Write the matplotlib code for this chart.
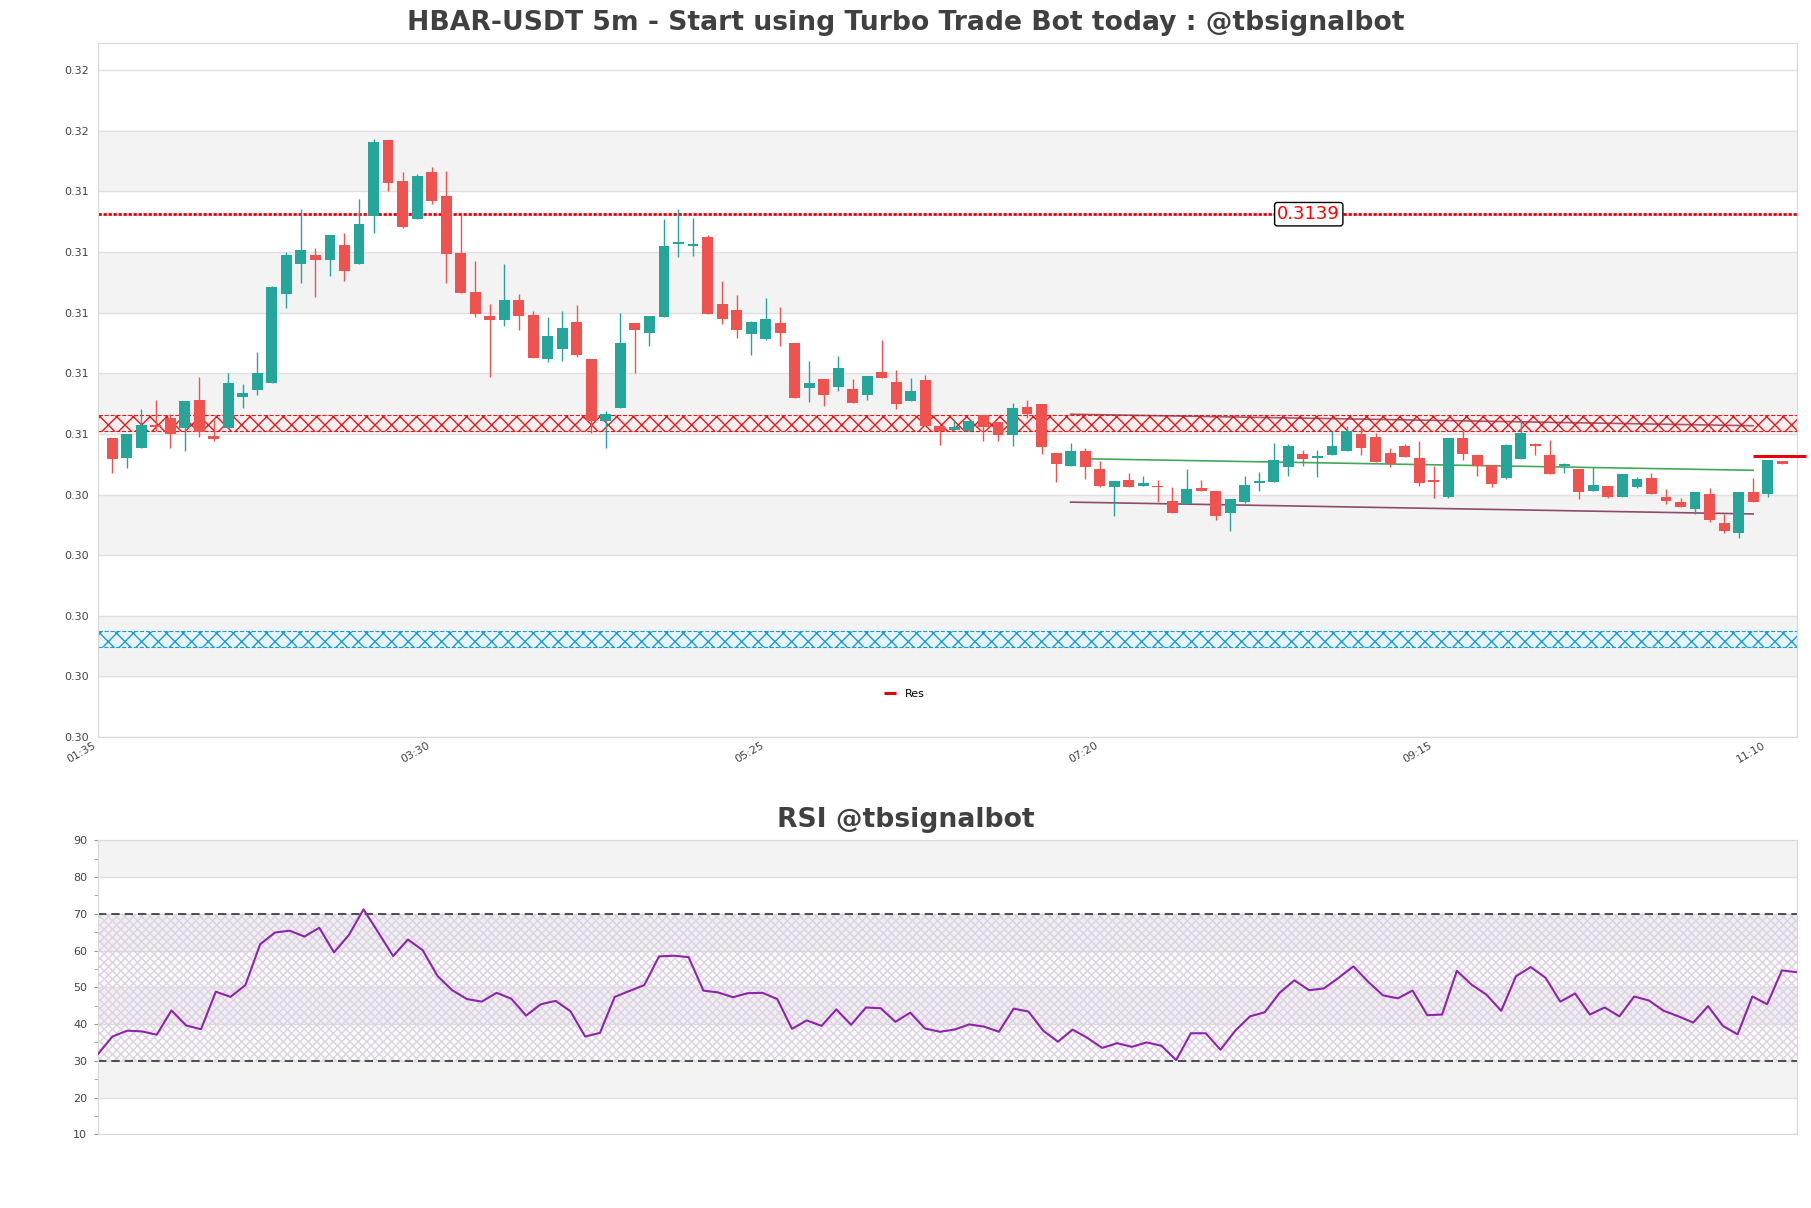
import numpy as np
import matplotlib
matplotlib.use('Agg')
import matplotlib.pyplot as plt
from matplotlib.ticker import FormatStrFormatter, MultipleLocator

# HBAR-USDT 5m candles, 01:40 -> 11:15
opens = [0.30652, 0.30587, 0.30620, 0.30695, 0.30719, 0.30684, 0.30777, 0.30658, 0.30684, 0.30788,
         0.30811, 0.30834, 0.31128, 0.31224, 0.31256, 0.31240, 0.31289, 0.31224, 0.31385, 0.31635,
         0.31500, 0.31375, 0.31529, 0.31450, 0.31262, 0.31133, 0.31054, 0.31042, 0.31107, 0.31058,
         0.30913, 0.30946, 0.31034, 0.30912, 0.30709, 0.30750, 0.31031, 0.30997, 0.31052, 0.31290,
         0.31286, 0.31315, 0.31094, 0.31074, 0.30996, 0.30979, 0.31031, 0.30965, 0.30818, 0.30846,
         0.30821, 0.30813, 0.30795, 0.30869, 0.30836, 0.30775, 0.30843, 0.30692, 0.30678, 0.30674,
         0.30726, 0.30704, 0.30663, 0.30754, 0.30764, 0.30601, 0.30560, 0.30609, 0.30549, 0.30491,
         0.30513, 0.30492, 0.30494, 0.30444, 0.30433, 0.30487, 0.30477, 0.30405, 0.30442, 0.30502,
         0.30508, 0.30557, 0.30599, 0.30587, 0.30597, 0.30610, 0.30665, 0.30655, 0.30602, 0.30625,
         0.30586, 0.30513, 0.30458, 0.30652, 0.30594, 0.30562, 0.30521, 0.30583, 0.30631, 0.30594,
         0.30560, 0.30548, 0.30478, 0.30493, 0.30458, 0.30491, 0.30520, 0.30457, 0.30440, 0.30418,
         0.30467, 0.30371, 0.30337, 0.30472, 0.30466, 0.30577]
highs = [0.30652, 0.30665, 0.30747, 0.30777, 0.30730, 0.30774, 0.30853, 0.30711, 0.30866, 0.30830,
         0.30935, 0.31154, 0.31264, 0.31407, 0.31279, 0.31322, 0.31328, 0.31440, 0.31638, 0.31635,
         0.31529, 0.31521, 0.31546, 0.31534, 0.31388, 0.31236, 0.31095, 0.31226, 0.31127, 0.31069,
         0.31051, 0.31071, 0.31091, 0.30912, 0.30739, 0.31064, 0.31031, 0.31054, 0.31374, 0.31407,
         0.31378, 0.31320, 0.31170, 0.31123, 0.31038, 0.31114, 0.31084, 0.30965, 0.30907, 0.30846,
         0.30922, 0.30846, 0.30856, 0.30975, 0.30876, 0.30850, 0.30859, 0.30692, 0.30711, 0.30708,
         0.30726, 0.30704, 0.30767, 0.30777, 0.30764, 0.30601, 0.30634, 0.30618, 0.30576, 0.30509,
         0.30535, 0.30526, 0.30513, 0.30490, 0.30549, 0.30513, 0.30477, 0.30450, 0.30526, 0.30538,
         0.30634, 0.30631, 0.30612, 0.30612, 0.30675, 0.30691, 0.30684, 0.30667, 0.30619, 0.30631,
         0.30642, 0.30560, 0.30652, 0.30673, 0.30594, 0.30562, 0.30632, 0.30713, 0.30634, 0.30645,
         0.30569, 0.30548, 0.30557, 0.30493, 0.30533, 0.30524, 0.30535, 0.30482, 0.30453, 0.30472,
         0.30486, 0.30400, 0.30472, 0.30518, 0.30578, 0.30577]
lows = [0.30537, 0.30554, 0.30620, 0.30673, 0.30620, 0.30610, 0.30654, 0.30642, 0.30684, 0.30752,
        0.30795, 0.30834, 0.31082, 0.31164, 0.31118, 0.31187, 0.31171, 0.31224, 0.31329, 0.31465,
        0.31346, 0.31375, 0.31425, 0.31164, 0.31131, 0.31052, 0.30852, 0.31022, 0.31009, 0.30917,
        0.30901, 0.30905, 0.30920, 0.30667, 0.30618, 0.30750, 0.30867, 0.30956, 0.31052, 0.31248,
        0.31253, 0.31060, 0.31029, 0.30983, 0.30927, 0.30975, 0.30956, 0.30785, 0.30771, 0.30758,
        0.30808, 0.30768, 0.30778, 0.30851, 0.30748, 0.30775, 0.30692, 0.30630, 0.30678, 0.30674,
        0.30643, 0.30643, 0.30626, 0.30716, 0.30600, 0.30507, 0.30560, 0.30517, 0.30491, 0.30395,
        0.30489, 0.30492, 0.30442, 0.30405, 0.30433, 0.30478, 0.30381, 0.30346, 0.30436, 0.30478,
        0.30508, 0.30527, 0.30560, 0.30524, 0.30597, 0.30610, 0.30596, 0.30574, 0.30557, 0.30590,
        0.30494, 0.30453, 0.30453, 0.30579, 0.30527, 0.30491, 0.30517, 0.30583, 0.30596, 0.30534,
        0.30535, 0.30449, 0.30478, 0.30453, 0.30458, 0.30486, 0.30468, 0.30433, 0.30423, 0.30400,
        0.30373, 0.30337, 0.30321, 0.30439, 0.30456, 0.30567]
closes = [0.30583, 0.30665, 0.30695, 0.30689, 0.30664, 0.30774, 0.30670, 0.30647, 0.30833, 0.30800,
          0.30866, 0.31150, 0.31256, 0.31272, 0.31240, 0.31322, 0.31201, 0.31358, 0.31628, 0.31494,
          0.31349, 0.31516, 0.31435, 0.31260, 0.31131, 0.31062, 0.31042, 0.31107, 0.31055, 0.30917,
          0.30988, 0.31015, 0.30927, 0.30707, 0.30731, 0.30965, 0.31009, 0.31054, 0.31285, 0.31298,
          0.31292, 0.31060, 0.31045, 0.31009, 0.31034, 0.31044, 0.30999, 0.30785, 0.30832, 0.30795,
          0.30883, 0.30768, 0.30856, 0.30851, 0.30765, 0.30807, 0.30692, 0.30674, 0.30687, 0.30708,
          0.30689, 0.30663, 0.30752, 0.30732, 0.30623, 0.30565, 0.30609, 0.30557, 0.30494, 0.30509,
          0.30489, 0.30503, 0.30489, 0.30405, 0.30483, 0.30478, 0.30395, 0.30450, 0.30497, 0.30509,
          0.30579, 0.30625, 0.30583, 0.30591, 0.30625, 0.30673, 0.30620, 0.30574, 0.30566, 0.30590,
          0.30504, 0.30508, 0.30652, 0.30600, 0.30560, 0.30501, 0.30628, 0.30667, 0.30626, 0.30534,
          0.30566, 0.30474, 0.30497, 0.30458, 0.30533, 0.30516, 0.30468, 0.30445, 0.30423, 0.30472,
          0.30382, 0.30346, 0.30472, 0.30439, 0.30578, 0.30567]

rsi = [31.7, 36.6, 38.2, 38.0, 37.1, 43.7, 39.6, 38.6, 48.8, 47.4,
       50.6, 61.7, 64.9, 65.4, 63.8, 66.2, 59.5, 64.2, 71.2, 64.9,
       58.5, 63.0, 60.1, 53.1, 49.2, 46.8, 46.1, 48.5, 46.9, 42.3,
       45.4, 46.3, 43.5, 36.6, 37.6, 47.4, 49.0, 50.6, 58.4, 58.6,
       58.2, 49.1, 48.6, 47.3, 48.4, 48.5, 46.8, 38.7, 41.0, 39.5,
       44.0, 39.8, 44.5, 44.3, 40.6, 43.1, 38.8, 37.9, 38.5, 39.9,
       39.3, 37.9, 44.2, 43.4, 38.2, 35.2, 38.5, 36.2, 33.5, 34.8,
       33.8, 35.0, 34.1, 30.2, 37.5, 37.5, 33.0, 38.2, 42.1, 43.2,
       48.5, 51.9, 49.2, 49.7, 52.6, 55.7, 51.5, 47.8, 47.0, 49.1,
       42.4, 42.6, 54.5, 50.7, 48.0, 43.6, 53.0, 55.5, 52.6, 46.1,
       48.3, 42.6, 44.5, 42.1, 47.5, 46.4, 43.6, 42.1, 40.4, 44.9,
       39.5, 37.2, 47.5, 45.4, 54.6, 54.1]

xtick_pos = [-1, 22, 45, 68, 91, 114]
xtick_labels = ['01:35', '03:30', '05:25', '07:20', '09:15', '11:10']

res_level = 0.3139
res_zone = (0.30673, 0.30728)
sup_zone = (0.29963, 0.30015)
trend_upper = ([66, 113], [0.30730, 0.30692])
trend_mid = ([67, 113], [0.30583, 0.30545])
trend_lower = ([66, 113], [0.30440, 0.30401])
res_mark = ([113, 116.65], [0.30591, 0.30591])

title = 'HBAR-USDT 5m - Start using Turbo Trade Bot today : @tbsignalbot'
rsi_title = 'RSI @tbsignalbot'

GREEN = '#26a69a'
RED = '#ef5350'
BAND = '#f3f3f3'
GRID = '#e0e0e0'
SPINE = '#d9d9d9'
TXT = '#444444'

fig = plt.figure(figsize=(18.11, 12.08), dpi=100)
ax = fig.add_axes([0.0539, 0.3899, 0.9382, 0.5748])
ax2 = fig.add_axes([0.0539, 0.0610, 0.9382, 0.2434])

# ---- price panel ----
ymin, ymax = 0.29665, 0.31956
yt = np.linspace(0.29665, 0.31865, 12)
ax.set_xlim(-1, 116)
ax.set_ylim(ymin, ymax)
for i in range(1, 11, 2):
    ax.axhspan(yt[i], yt[i + 1], color=BAND, zorder=0, lw=0)
ax.set_yticks(yt)
ax.yaxis.set_major_formatter(FormatStrFormatter('%.2f'))
ax.grid(axis='y', color=GRID, lw=1, zorder=0.5)
ax.set_axisbelow(True)
ax.tick_params(axis='y', length=0, pad=6.5, labelsize=8, colors=TXT)
ax.set_xticks(xtick_pos)
ax.set_xticklabels(xtick_labels, rotation=30, ha='right')
ax.tick_params(axis='x', length=0, pad=2, labelsize=8, colors=TXT)
for s in ax.spines.values():
    s.set_color(SPINE)

# zones
ax.axhspan(*res_zone, facecolor=(1, 0.93, 0.93, 0.6), edgecolor='#e31a1c', hatch='xx',
           lw=0.8, ls='--', zorder=1)
ax.axhspan(*sup_zone, facecolor=(0.88, 0.96, 1, 0.6), edgecolor='#1c9bd6', hatch='xx',
           lw=0.8, ls='--', zorder=1)

ax.axhline(res_level, color='#e8000b', ls=(0, (1.2, 0.6)), lw=2, zorder=2)
ax.text(82.4, res_level, f'{res_level}', color='red', fontsize=13, ha='center', va='center',
        zorder=6, bbox=dict(boxstyle='round,pad=0.15', fc='white', ec='black', lw=1))

ax.plot(*trend_upper, color='#9b2d3f', lw=1.2, alpha=0.8, zorder=2)
ax.plot(*trend_mid, color='#43a85a', lw=1.2, zorder=2)
ax.plot(*trend_lower, color='#7b2d50', lw=1.2, alpha=0.85, zorder=2)

# candles
x = np.arange(len(opens))
o = np.array(opens)
c = np.array(closes)
h = np.array(highs)
l = np.array(lows)
cols = np.where(c >= o, GREEN, RED)
ax.vlines(x, l, h, colors=cols, lw=1, zorder=3)
body = np.maximum(np.abs(c - o), 0.00005)
ax.bar(x, body, bottom=np.minimum(o, c), width=0.75, color=cols, lw=0, zorder=4)

ax.plot(*res_mark, color='#e8000b', lw=2.2, clip_on=False, solid_capstyle='butt',
        zorder=5, label='Res')
ax.legend(loc='center', bbox_to_anchor=(0.4746, 0.062), frameon=False, fontsize=8,
          handlelength=1.1)

# ---- RSI panel ----
ax2.set_xlim(0, len(rsi) - 1)
ax2.set_ylim(10, 90)
for lo in (20, 40, 60, 80):
    ax2.axhspan(lo, lo + 10, color=BAND, zorder=0, lw=0)
ax2.axhspan(30, 70, facecolor=(0.56, 0.14, 0.67, 0.02), edgecolor='#dcd3e2', hatch='xxxx',
            lw=0, zorder=0.6)
ax2.set_yticks(range(10, 91, 10))
ax2.yaxis.set_minor_locator(MultipleLocator(5))
ax2.grid(axis='y', color=GRID, lw=1, zorder=0.5)
ax2.set_axisbelow(True)
ax2.tick_params(axis='y', which='both', length=3, pad=4.5, labelsize=8, colors=TXT)
ax2.tick_params(axis='y', which='both', color='#999999')
ax2.set_xticks([])
for s in ax2.spines.values():
    s.set_color(SPINE)
ax2.axhline(70, color='#333333', ls=(0, (5, 3)), lw=1.2, zorder=2)
ax2.axhline(30, color='#333333', ls=(0, (5, 3)), lw=1.2, zorder=2)
ax2.plot(np.arange(len(rsi)), rsi, color='#8e24aa', lw=1.5, zorder=3)

fig.text(0.5, 1 - 23 / 1208, title, ha='center', va='center', fontsize=19.2,
         fontweight='bold', color='#404040')
fig.text(0.5, 1 - 820 / 1208, rsi_title, ha='center', va='center', fontsize=19.2,
         fontweight='bold', color='#404040')

fig.savefig('out.png', dpi=100)
